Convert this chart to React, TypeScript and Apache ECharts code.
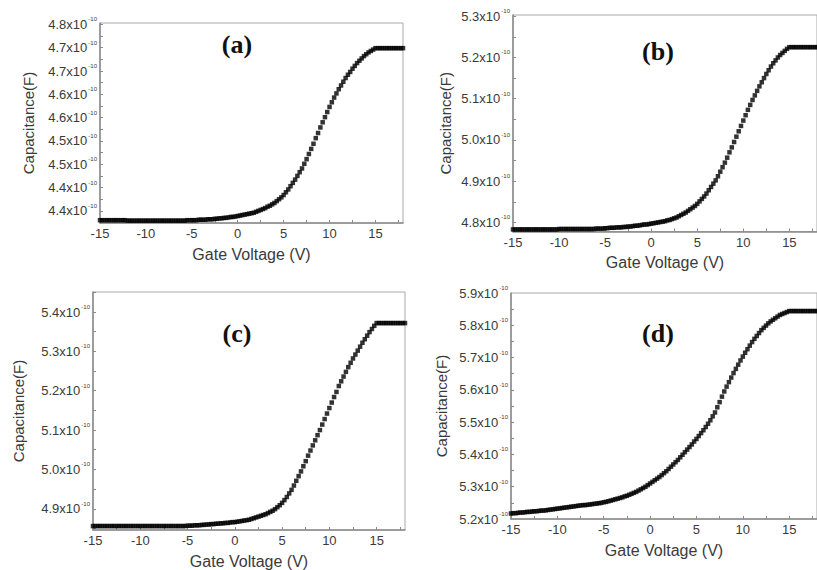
import { useEffect, useRef } from 'react';
import * as echarts from 'echarts';

// Gate voltage sampling (V)
const VOLTAGE = [
  -15, -14.75, -14.5, -14.25, -14, -13.75, -13.5, -13.25, -13, -12.75, -12.5, -12.25,
  -12, -11.75, -11.5, -11.25, -11, -10.75, -10.5, -10.25, -10, -9.75, -9.5, -9.25,
  -9, -8.75, -8.5, -8.25, -8, -7.75, -7.5, -7.25, -7, -6.75, -6.5, -6.25,
  -6, -5.75, -5.5, -5.25, -5, -4.75, -4.5, -4.25, -4, -3.75, -3.5, -3.25,
  -3, -2.75, -2.5, -2.25, -2, -1.75, -1.5, -1.25, -1, -0.75, -0.5, -0.25,
  0, 0.25, 0.5, 0.75, 1, 1.25, 1.5, 1.75, 2, 2.25, 2.5, 2.75,
  3, 3.25, 3.5, 3.75, 4, 4.25, 4.5, 4.75, 5, 5.25, 5.5, 5.75,
  6, 6.25, 6.5, 6.75, 7, 7.25, 7.5, 7.75, 8, 8.25, 8.5, 8.75,
  9, 9.25, 9.5, 9.75, 10, 10.25, 10.5, 10.75, 11, 11.25, 11.5, 11.75,
  12, 12.25, 12.5, 12.75, 13, 13.25, 13.5, 13.75, 14, 14.25, 14.5, 14.75,
  15, 15.25, 15.5, 15.75, 16, 16.25, 16.5, 16.75, 17, 17.25, 17.5, 17.75, 18,
];

// Capacitance in units of 1e-10 F
const CAP_A = [
  4.380, 4.380, 4.380, 4.380, 4.380, 4.380, 4.380, 4.380, 4.380, 4.380, 4.380, 4.380,
  4.379, 4.379, 4.379, 4.379, 4.379, 4.379, 4.379, 4.379, 4.379, 4.379, 4.379, 4.379,
  4.379, 4.379, 4.379, 4.379, 4.379, 4.379, 4.379, 4.379, 4.379, 4.379, 4.379, 4.379,
  4.379, 4.379, 4.380, 4.380, 4.380, 4.380, 4.380, 4.381, 4.381, 4.381, 4.381, 4.382,
  4.382, 4.382, 4.383, 4.383, 4.384, 4.384, 4.385, 4.385, 4.386, 4.387, 4.387, 4.388,
  4.389, 4.390, 4.391, 4.392, 4.393, 4.394, 4.395, 4.396, 4.398, 4.400, 4.402, 4.404,
  4.406, 4.409, 4.411, 4.414, 4.417, 4.421, 4.425, 4.429, 4.434, 4.440, 4.446, 4.453,
  4.460, 4.467, 4.475, 4.483, 4.491, 4.501, 4.511, 4.522, 4.533, 4.544, 4.556, 4.567,
  4.579, 4.590, 4.601, 4.612, 4.623, 4.633, 4.643, 4.652, 4.661, 4.669, 4.677, 4.685,
  4.692, 4.698, 4.705, 4.711, 4.717, 4.722, 4.727, 4.732, 4.736, 4.740, 4.743, 4.746,
  4.749, 4.749, 4.749, 4.749, 4.749, 4.749, 4.749, 4.749, 4.749, 4.749, 4.749, 4.749, 4.749,
];

const CAP_B = [
  4.783, 4.783, 4.783, 4.783, 4.783, 4.783, 4.783, 4.783, 4.783, 4.783, 4.783, 4.783,
  4.783, 4.783, 4.783, 4.783, 4.783, 4.783, 4.783, 4.783, 4.784, 4.784, 4.784, 4.784,
  4.784, 4.784, 4.784, 4.784, 4.784, 4.784, 4.784, 4.784, 4.784, 4.784, 4.784, 4.784,
  4.785, 4.785, 4.785, 4.785, 4.786, 4.786, 4.787, 4.787, 4.787, 4.788, 4.788, 4.788,
  4.789, 4.789, 4.790, 4.790, 4.791, 4.792, 4.792, 4.793, 4.794, 4.795, 4.795, 4.796,
  4.797, 4.798, 4.799, 4.800, 4.801, 4.802, 4.803, 4.805, 4.806, 4.808, 4.810, 4.812,
  4.815, 4.818, 4.821, 4.824, 4.828, 4.832, 4.836, 4.840, 4.845, 4.851, 4.857, 4.863,
  4.870, 4.878, 4.886, 4.894, 4.902, 4.912, 4.923, 4.934, 4.945, 4.957, 4.970, 4.982,
  4.995, 5.008, 5.021, 5.034, 5.047, 5.060, 5.073, 5.085, 5.097, 5.108, 5.119, 5.130,
  5.140, 5.150, 5.160, 5.169, 5.178, 5.186, 5.193, 5.200, 5.206, 5.211, 5.216, 5.221,
  5.225, 5.225, 5.225, 5.225, 5.225, 5.225, 5.225, 5.225, 5.225, 5.225, 5.225, 5.225, 5.225,
];

const CAP_C = [
  4.856, 4.856, 4.856, 4.856, 4.856, 4.856, 4.856, 4.856, 4.856, 4.856, 4.856, 4.856,
  4.856, 4.856, 4.856, 4.856, 4.856, 4.856, 4.856, 4.856, 4.856, 4.856, 4.856, 4.856,
  4.856, 4.856, 4.856, 4.856, 4.856, 4.856, 4.856, 4.856, 4.856, 4.856, 4.856, 4.856,
  4.856, 4.856, 4.856, 4.856, 4.857, 4.857, 4.857, 4.858, 4.858, 4.858, 4.859, 4.859,
  4.860, 4.860, 4.861, 4.861, 4.862, 4.862, 4.863, 4.863, 4.864, 4.864, 4.865, 4.866,
  4.866, 4.867, 4.868, 4.869, 4.870, 4.871, 4.872, 4.874, 4.876, 4.878, 4.880, 4.882,
  4.884, 4.886, 4.889, 4.892, 4.895, 4.899, 4.904, 4.909, 4.915, 4.922, 4.930, 4.939,
  4.948, 4.959, 4.971, 4.983, 4.995, 5.008, 5.021, 5.035, 5.048, 5.061, 5.074, 5.087,
  5.100, 5.114, 5.128, 5.142, 5.156, 5.170, 5.184, 5.197, 5.212, 5.224, 5.236, 5.248,
  5.260, 5.271, 5.282, 5.292, 5.302, 5.312, 5.322, 5.331, 5.340, 5.349, 5.357, 5.365,
  5.372, 5.372, 5.372, 5.372, 5.372, 5.372, 5.372, 5.372, 5.372, 5.372, 5.372, 5.372, 5.372,
];

const CAP_D = [
  5.217, 5.218, 5.218, 5.219, 5.220, 5.220, 5.221, 5.222, 5.222, 5.223, 5.224, 5.224,
  5.225, 5.226, 5.226, 5.227, 5.228, 5.229, 5.230, 5.231, 5.232, 5.233, 5.234, 5.235,
  5.236, 5.237, 5.238, 5.239, 5.240, 5.241, 5.242, 5.243, 5.243, 5.244, 5.245, 5.246,
  5.247, 5.248, 5.249, 5.250, 5.252, 5.253, 5.255, 5.257, 5.259, 5.261, 5.263, 5.265,
  5.267, 5.270, 5.272, 5.275, 5.278, 5.281, 5.284, 5.288, 5.292, 5.296, 5.300, 5.305,
  5.310, 5.315, 5.320, 5.325, 5.330, 5.336, 5.342, 5.348, 5.355, 5.362, 5.369, 5.376,
  5.383, 5.391, 5.399, 5.407, 5.415, 5.423, 5.431, 5.440, 5.448, 5.457, 5.466, 5.475,
  5.485, 5.495, 5.506, 5.518, 5.530, 5.546, 5.562, 5.579, 5.595, 5.610, 5.624, 5.638,
  5.652, 5.665, 5.678, 5.691, 5.703, 5.715, 5.726, 5.737, 5.748, 5.758, 5.767, 5.776,
  5.785, 5.792, 5.799, 5.806, 5.812, 5.817, 5.822, 5.827, 5.832, 5.835, 5.838, 5.841,
  5.844, 5.844, 5.844, 5.844, 5.844, 5.844, 5.844, 5.844, 5.844, 5.844, 5.844, 5.844, 5.844,
];

const PANEL_TITLES = ['(a)', '(b)', '(c)', '(d)'];
const X_AXIS_NAME = 'Gate Voltage (V)';
const Y_AXIS_NAME = 'Capacitance(F)';
const EXPONENT = '-10';

const X_LABEL_VALUES = [-15, -10, -5, 0, 5, 10, 15];
const X_TICK_LABELS = ['-15', '-10', '-5', '0', '5', '10', '15'];
const X_TICK_VALUES = [-15, -12.5, -10, -7.5, -5, -2.5, 0, 2.5, 5, 7.5, 10, 12.5, 15, 17.5];

const A_LABEL_VALUES = [4.40, 4.45, 4.50, 4.55, 4.60, 4.65, 4.70, 4.75, 4.80];
const A_TICK_LABELS = ['4.4', '4.4', '4.5', '4.5', '4.6', '4.6', '4.7', '4.7', '4.8'];
const A_TICK_VALUES = [4.375, 4.40, 4.425, 4.45, 4.475, 4.50, 4.525, 4.55, 4.575, 4.60, 4.625, 4.65, 4.675, 4.70, 4.725, 4.75, 4.775, 4.80];

const B_LABEL_VALUES = [4.8, 4.9, 5.0, 5.1, 5.2, 5.3];
const B_TICK_LABELS = ['4.8', '4.9', '5.0', '5.1', '5.2', '5.3'];
const B_TICK_VALUES = [4.8, 4.85, 4.9, 4.95, 5.0, 5.05, 5.1, 5.15, 5.2, 5.25, 5.3];

const C_LABEL_VALUES = [4.9, 5.0, 5.1, 5.2, 5.3, 5.4];
const C_TICK_LABELS = ['4.9', '5.0', '5.1', '5.2', '5.3', '5.4'];
const C_TICK_VALUES = [4.85, 4.9, 4.95, 5.0, 5.05, 5.1, 5.15, 5.2, 5.25, 5.3, 5.35, 5.4, 5.45];

const D_LABEL_VALUES = [5.2, 5.3, 5.4, 5.5, 5.6, 5.7, 5.8, 5.9];
const D_TICK_LABELS = ['5.2', '5.3', '5.4', '5.5', '5.6', '5.7', '5.8', '5.9'];
const D_TICK_VALUES = [5.25, 5.3, 5.35, 5.4, 5.45, 5.5, 5.55, 5.6, 5.65, 5.7, 5.75, 5.8, 5.85];

const SANS = '"Liberation Sans", Arial, Helvetica, sans-serif';

const PANELS = [
  { grid: { left: 100, top: 23, width: 303, height: 200 }, yMin: 4.374, yMax: 4.803, data: CAP_A, labelValues: A_LABEL_VALUES, labels: A_TICK_LABELS, ticks: A_TICK_VALUES, nameGap: 64, title: [237, 44] },
  { grid: { left: 513, top: 15, width: 309, height: 216.5 }, yMin: 4.778, yMax: 5.303, data: CAP_B, labelValues: B_LABEL_VALUES, labels: B_TICK_LABELS, ticks: B_TICK_VALUES, nameGap: 60, title: [658, 51] },
  { grid: { left: 93, top: 292, width: 312, height: 238 }, yMin: 4.846, yMax: 5.451, data: CAP_C, labelValues: C_LABEL_VALUES, labels: C_TICK_LABELS, ticks: C_TICK_VALUES, nameGap: 67, title: [237, 333] },
  { grid: { left: 511, top: 293, width: 310, height: 226 }, yMin: 5.2, yMax: 5.9, data: CAP_D, labelValues: D_LABEL_VALUES, labels: D_TICK_LABELS, ticks: D_TICK_VALUES, nameGap: 62, title: [658, 333] },
];

function lookup(values: number[], labels: string[], v: number): string {
  for (let i = 0; i < values.length; i++) {
    if (Math.abs(values[i] - v) < 1e-6) return labels[i];
  }
  return '';
}

export default function App() {
  const ref = useRef<HTMLDivElement>(null);

  useEffect(() => {
    if (!ref.current) return;
    const chart = echarts.init(ref.current, undefined, { renderer: 'svg' });

    const axisColor = '#8a8a8a';
    const textColor = '#3a3a3a';

    const option: any = {
      animation: false,
      backgroundColor: '#ffffff',
      grid: PANELS.map((p) => ({
        ...p.grid,
        show: true,
        borderColor: '#a8a8a8',
        borderWidth: 1,
        backgroundColor: 'transparent',
        containLabel: false,
      })),
      xAxis: PANELS.map((p, i) => ({
        type: 'value',
        gridIndex: i,
        min: -15,
        max: 18,
        name: X_AXIS_NAME,
        nameLocation: 'middle',
        nameGap: 23,
        nameTextStyle: { fontFamily: SANS, fontSize: 16, color: textColor, verticalAlign: 'top' },
        axisLine: { show: true, onZero: false, lineStyle: { color: axisColor, width: 1.5 } },
        axisTick: { show: true, inside: true, length: 3, customValues: X_TICK_VALUES, lineStyle: { color: axisColor } },
        axisLabel: {
          show: true,
          margin: 4,
          customValues: X_LABEL_VALUES,
          fontFamily: SANS,
          fontSize: 13,
          color: textColor,
          formatter: (v: number) => lookup(X_LABEL_VALUES, X_TICK_LABELS, v),
        },
        splitLine: { show: false },
      })),
      yAxis: PANELS.map((p, i) => ({
        type: 'value',
        gridIndex: i,
        min: p.yMin,
        max: p.yMax,
        name: Y_AXIS_NAME,
        nameLocation: 'middle',
        nameGap: p.nameGap,
        nameTextStyle: { fontFamily: SANS, fontSize: 15, color: textColor },
        axisLine: { show: true, onZero: false, lineStyle: { color: axisColor, width: 1.5 } },
        axisTick: { show: true, inside: true, length: 3, customValues: p.ticks, lineStyle: { color: axisColor } },
        axisLabel: {
          show: true,
          margin: 3,
          customValues: p.labelValues,
          color: textColor,
          formatter: (v: number) => `{m|${lookup(p.labelValues, p.labels, v)}x10}{s|${EXPONENT}}`,
          rich: {
            m: { fontFamily: SANS, fontSize: 13, color: textColor },
            s: { fontFamily: SANS, fontSize: 6, color: textColor, padding: [0, 0, 10, 1] },
          },
        },
        splitLine: { show: false },
      })),
      series: PANELS.map((p, i) => ({
        type: 'scatter',
        xAxisIndex: i,
        yAxisIndex: i,
        symbol: 'rect',
        symbolSize: 4.5,
        itemStyle: { color: '#000000' },
        data: VOLTAGE.map((v, k) => [v, p.data[k]]),
        silent: true,
      })),
      graphic: PANELS.map((p, i) => ({
        type: 'text',
        x: p.title[0],
        y: p.title[1],
        style: {
          text: PANEL_TITLES[i],
          font: 'bold 26px "Liberation Serif", "Times New Roman", serif',
          fill: '#111111',
          align: 'center',
          verticalAlign: 'middle',
        },
      })),
    };

    chart.setOption(option);
    return () => chart.dispose();
  }, []);

  return (
    <div
      ref={ref}
      style={{ position: 'fixed', left: 0, top: 0, width: 817, height: 570, background: '#fff' }}
    />
  );
}
